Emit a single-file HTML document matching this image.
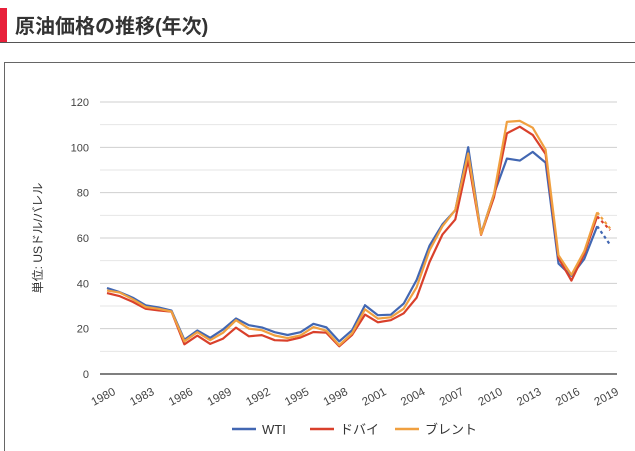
<!DOCTYPE html>
<html><head><meta charset="utf-8"><style>
body{margin:0;width:635px;height:451px;background:#fff;overflow:hidden;font-family:"Liberation Sans","Noto Sans CJK JP",sans-serif;}
</style></head><body>
<svg id="s" width="635" height="451" xmlns="http://www.w3.org/2000/svg" style="position:absolute;left:0;top:0">
<rect x="0" y="8" width="7" height="34" fill="#e8203a"/>
<text x="15" y="33" font-size="20" font-weight="bold" fill="#333" font-family="Liberation Sans, Noto Sans CJK JP, sans-serif">原油価格の推移(年次)</text>
<line x1="0" y1="42.5" x2="635" y2="42.5" stroke="#555" stroke-width="1"/>
<rect x="4.5" y="62.5" width="640" height="400" fill="none" stroke="#666" stroke-width="1"/>
<g id="grid"></g>
<text transform="translate(42,238) rotate(-90)" text-anchor="middle" font-size="12" fill="#333" font-family="Liberation Sans, Noto Sans CJK JP, sans-serif">単位: USドル/バレル</text>
<g id="lines"></g>
<g font-size="13" fill="#333" font-family="Liberation Sans, Noto Sans CJK JP, sans-serif">
<line x1="232" y1="429" x2="256" y2="429" stroke="#4267b2" stroke-width="2.5"/><text x="262" y="434">WTI</text>
<line x1="310" y1="429" x2="334" y2="429" stroke="#d9402b" stroke-width="2.5"/><text x="340" y="434">ドバイ</text>
<line x1="395" y1="429" x2="419" y2="429" stroke="#f0a040" stroke-width="2.5"/><text x="425" y="434">ブレント</text>
</g>
</svg>
<script>
var NS="http://www.w3.org/2000/svg";
function el(t,a,p,txt){var e=document.createElementNS(NS,t);for(var k in a)e.setAttribute(k,a[k]);if(txt!==undefined)e.textContent=String(txt);p.appendChild(e);return e;}
var g=document.getElementById('grid'),L=document.getElementById('lines');
function Y(v){return 374-v*2.2667;}
function X(i){return 107+i*12.9;}
for(var v=10;v<=120;v+=10){el('line',{x1:100,x2:617,y1:Y(v),y2:Y(v),stroke:v%20?'#e6e6e6':'#cfcfcf','stroke-width':1},g);}
for(var v=0;v<=120;v+=20){el('text',{x:89,y:Y(v)+4,'text-anchor':'end','font-size':11,fill:'#444'},g,v);}
el('line',{x1:100,x2:617,y1:374,y2:374,stroke:'#333','stroke-width':1.2},g);
for(var i=0;i<40;i+=3){var yr=1980+i,x=X(i)-2;el('text',{transform:'translate('+x+',400) rotate(-28)','text-anchor':'middle','font-size':11.5,fill:'#444'},g,yr);}
var W=[37.96,36.08,33.65,30.30,29.39,27.98,15.10,19.18,15.97,19.68,24.50,21.54,20.57,18.45,17.21,18.42,22.16,20.61,14.39,19.31,30.37,25.93,26.16,31.07,41.49,56.59,66.02,72.20,100.06,61.92,79.45,95.04,94.13,97.99,93.28,48.71,43.34,50.79,65.20,57.03];
var D=[35.69,34.32,31.80,28.78,28.06,27.53,13.10,16.95,13.27,15.62,20.45,16.63,17.17,14.93,14.74,16.10,18.52,18.23,12.21,17.25,26.20,22.81,23.74,26.78,33.64,49.35,61.50,68.19,94.34,61.39,78.06,106.18,109.08,105.47,97.07,51.20,41.19,53.13,69.51,63.49];
var B=[36.83,35.93,32.97,29.55,28.78,27.56,14.43,18.44,14.92,18.23,23.73,20.00,19.32,16.97,15.82,17.02,20.67,19.09,12.72,17.97,28.50,24.44,25.02,28.83,38.27,54.52,65.14,72.39,97.26,61.67,79.50,111.26,111.67,108.66,98.95,52.39,43.73,54.19,71.31,64.21];
[[W,'#4267b2'],[D,'#d9402b'],[B,'#f0a040']].forEach(function(s){
var p=[];for(var i=0;i<39;i++)p.push(X(i).toFixed(1)+','+Y(s[0][i]).toFixed(1));
el('polyline',{points:p.join(' '),fill:'none',stroke:s[1],'stroke-width':2.2,'stroke-linejoin':'round'},L);
el('line',{x1:X(38),y1:Y(s[0][38]),x2:X(39),y2:Y(s[0][39]),stroke:s[1],'stroke-width':2.2,'stroke-dasharray':'3,3'},L);
});
</script>
</body></html>
